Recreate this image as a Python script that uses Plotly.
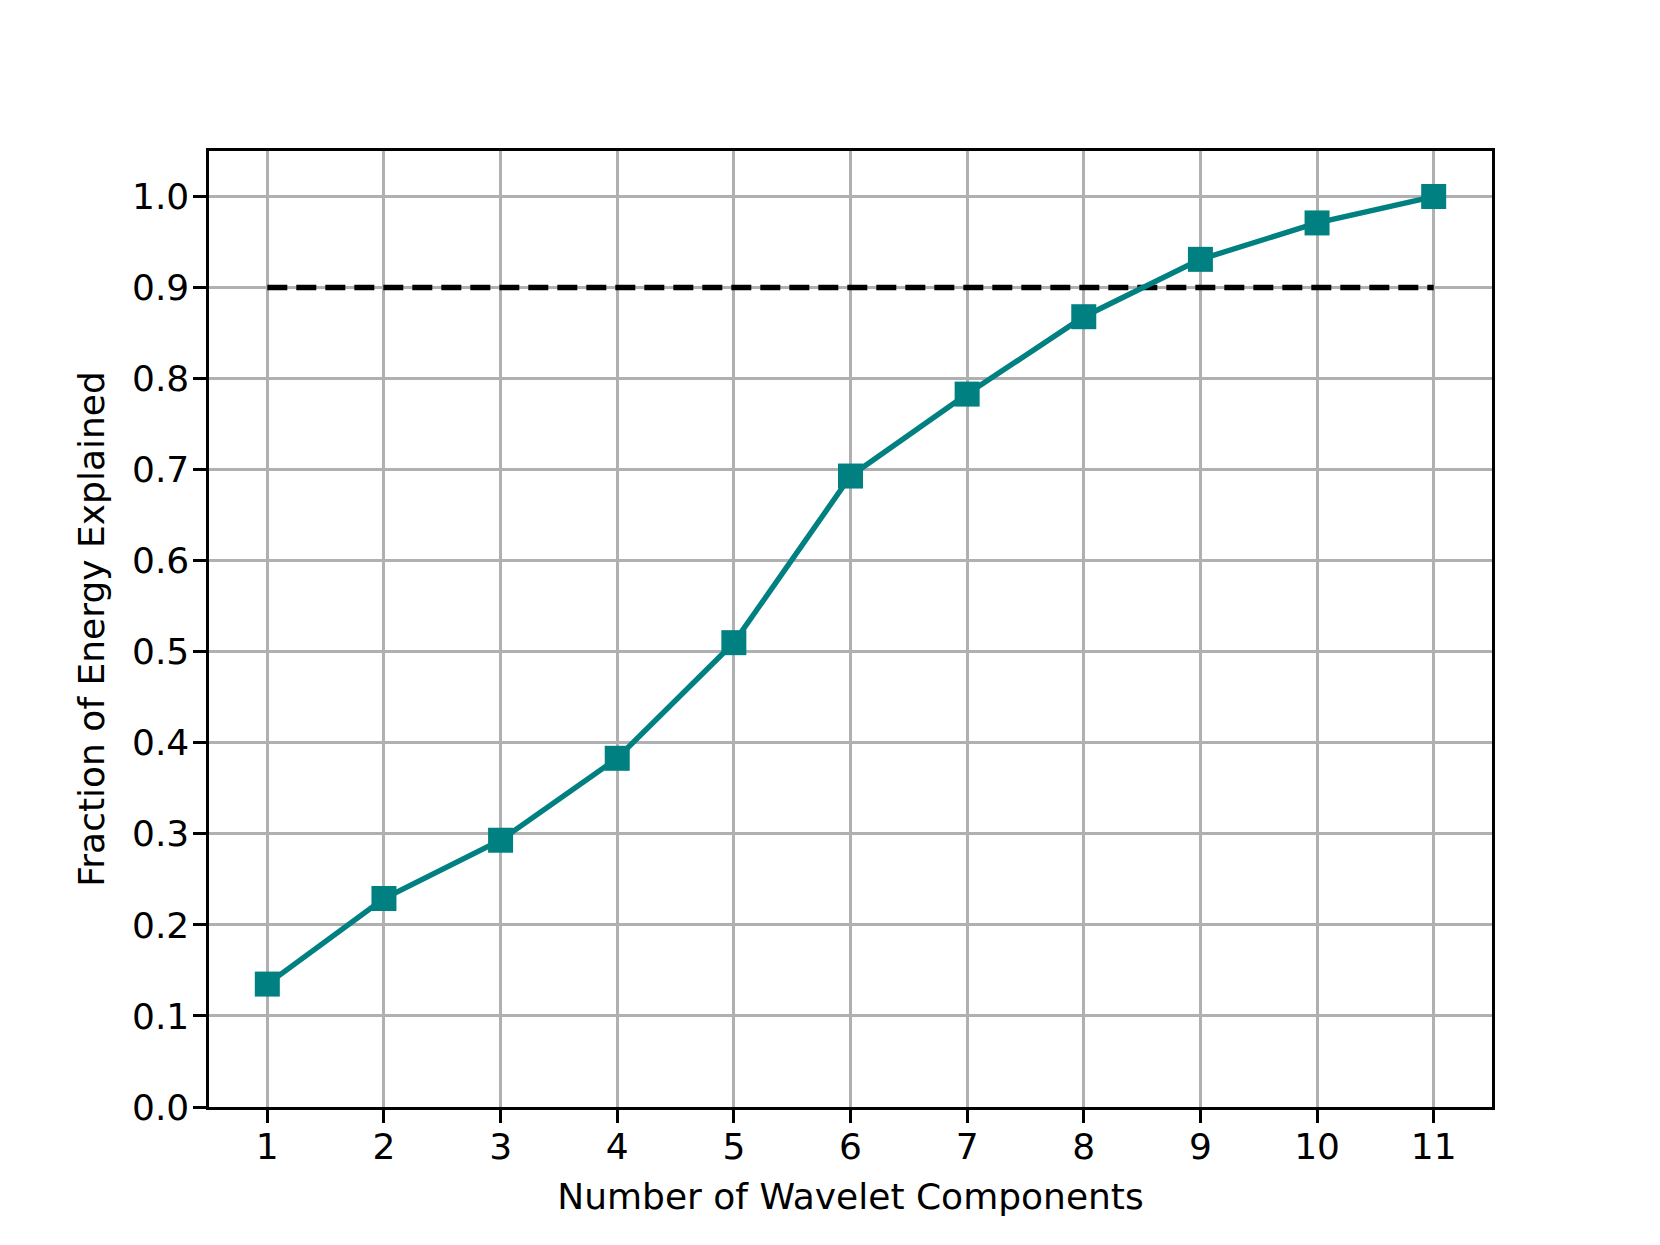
import plotly.graph_objects as go

# cumulative energy fraction vs number of wavelet components
n_components = [1, 2, 3, 4, 5, 6, 7, 8, 9, 10, 11]
energy_fraction = [0.135, 0.229, 0.293, 0.383, 0.510, 0.693, 0.783, 0.868, 0.931, 0.971, 1.0]

threshold_x = [1, 11]
threshold_y = [0.9, 0.9]

x_ticks = list(range(1, 12))
y_ticks = [0.0, 0.1, 0.2, 0.3, 0.4, 0.5, 0.6, 0.7, 0.8, 0.9, 1.0]

TEAL = "#008080"
GRID = "#b0b0b0"
FONT = "DejaVu Sans"

fig = go.Figure()

fig.add_trace(go.Scatter(
    x=threshold_x, y=threshold_y,
    mode="lines",
    line=dict(color="black", width=5.4, dash="20px,9px"),
    showlegend=False,
))

fig.add_trace(go.Scatter(
    x=n_components, y=energy_fraction,
    mode="lines+markers",
    line=dict(color=TEAL, width=5.4),
    marker=dict(symbol="square", size=25, color=TEAL, line=dict(width=0)),
    showlegend=False,
))

axis_common = dict(
    showgrid=True, gridcolor=GRID, gridwidth=2.9,
    showline=True, linecolor="black", linewidth=2.9, mirror=True,
    ticks="outside", ticklen=12.6, tickwidth=2.9, tickcolor="black",
    zeroline=False,
    tickfont=dict(family=FONT, size=36, color="black"),
)

# margins compensate for the 8px body margin of the html page
fig.update_layout(
    width=1660, height=1245,
    paper_bgcolor="white", plot_bgcolor="white",
    margin=dict(l=201, r=176, t=143, b=145.5),
    font=dict(family=FONT, color="black"),
    xaxis=dict(
        range=[0.5, 11.5], tickvals=x_ticks,
        title=dict(text="Number of Wavelet Components",
                   font=dict(family=FONT, size=36), standoff=19),
        ticklabelstandoff=-7,
        **axis_common,
    ),
    yaxis=dict(
        range=[0, 1.05], tickvals=y_ticks, tickformat=".1f",
        title=dict(text="Fraction of Energy Explained",
                   font=dict(family=FONT, size=36), standoff=17),
        ticklabelstandoff=-3,
        **axis_common,
    ),
)

fig.write_html("out.html")
